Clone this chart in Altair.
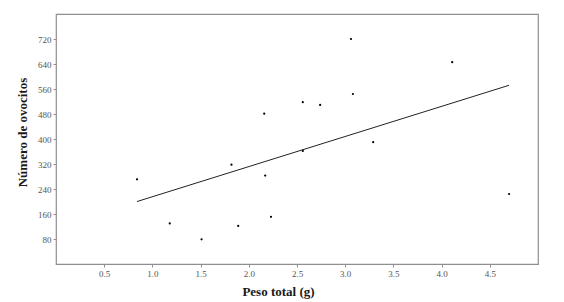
import altair as alt
import pandas as pd

peso = [0.84, 1.18, 1.51, 1.82, 1.89, 2.16, 2.17, 2.23, 2.56, 2.56, 2.74, 3.06, 3.08, 3.29, 4.11, 4.70]
ovocitos = [271, 130, 79, 318, 122, 481, 283, 151, 518, 362, 509, 720, 544, 390, 646, 224]
x_ticks = [0.5, 1.0, 1.5, 2.0, 2.5, 3.0, 3.5, 4.0, 4.5]
y_ticks = [80, 160, 240, 320, 400, 480, 560, 640, 720]

df = pd.DataFrame({"peso": peso, "ovocitos": ovocitos})

font = "Liberation Serif"

x = alt.X("peso:Q", scale=alt.Scale(domain=[0, 5], nice=False, zero=False),
          axis=alt.Axis(title="Peso total (g)", values=x_ticks, format=".1f",
                        titleX=222, titleY=21, titleBaseline="top", titleAlign="center"))
y = alt.Y("ovocitos:Q", scale=alt.Scale(domain=[0, 800], nice=False),
          axis=alt.Axis(title="Número de ovocitos", values=y_ticks, format="d",
                        titleY=118, titlePadding=8))

base = alt.Chart(df)
points = base.mark_circle(size=5, color="black", opacity=1).encode(x=x, y=y)
line = base.transform_regression("peso", "ovocitos").mark_line(
    color="#222222", strokeWidth=1).encode(x=x, y=y)

chart = (points + line).properties(
    width=482, height=250,
    autosize=alt.AutoSizeParams(type="none"),
    padding={"left": 48, "top": 6, "right": 18, "bottom": 40},
).configure_view(
    stroke="#8f8f8f", strokeWidth=1.2
).configure_axis(
    grid=False, domain=False,
    labelFont=font, labelFontSize=9, labelColor="#555555",
    titleFont=font, titleFontSize=13, titleFontWeight="bold", titleColor="#1a1a1a",
    tickColor="#8f8f8f", tickSize=3, labelPadding=2,
)

chart.save("out.html", embed_options={"renderer": "svg", "actions": False})
